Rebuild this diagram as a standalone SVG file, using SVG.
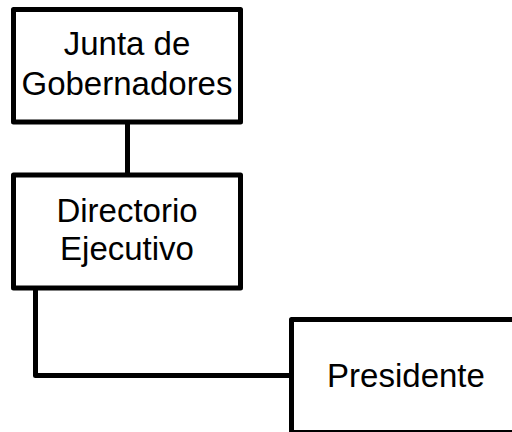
<svg xmlns="http://www.w3.org/2000/svg" width="512" height="432" viewBox="0 0 512 432">
<style>
.box{fill:#fff;stroke:#000;stroke-width:5;stroke-linejoin:round}
.lbl{font-family:"Liberation Sans",Arial,sans-serif;font-size:33px;fill:#000;text-anchor:middle}
.con{fill:none;stroke:#000;stroke-width:5;stroke-linejoin:round}
</style>
<rect width="512" height="432" fill="#fff"/>
<g id="connectors">
<line class="con" x1="127.5" y1="122" x2="127.5" y2="175"/>
<polyline class="con" points="35.5,288 35.5,375.5 291.5,375.5"/>
</g>
<g id="junta">
<rect class="box" x="13.5" y="9.5" width="227" height="112.5"/>
<text class="lbl" x="127" y="55">Junta de</text>
<text class="lbl" x="127" y="95">Gobernadores</text>
</g>
<g id="directorio">
<rect class="box" x="13.5" y="175" width="227" height="113"/>
<text class="lbl" x="127" y="222">Directorio</text>
<text class="lbl" x="127" y="260">Ejecutivo</text>
</g>
<g id="presidente">
<rect class="box" x="291.5" y="319.5" width="240" height="113"/>
<text class="lbl" x="406" y="387">Presidente</text>
</g>
</svg>
